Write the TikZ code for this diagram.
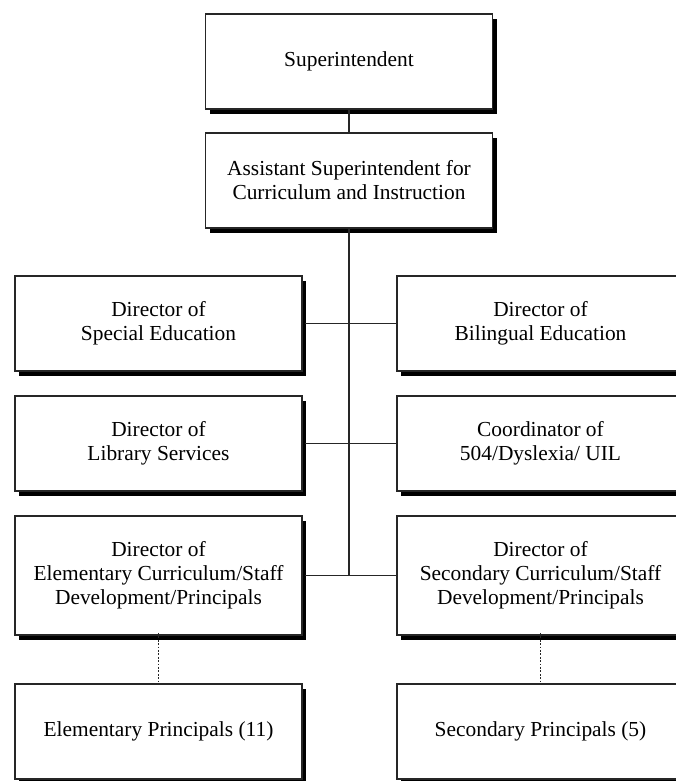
\documentclass[tikz,border=0pt]{standalone}
\usepackage{fontspec}
\setmainfont{Liberation Serif}
\usetikzlibrary{shadows}
\begin{document}
\begin{tikzpicture}[x=1pt,y=-1pt,
  orgbox/.style={draw=black!85, line width=1.9pt, fill=white,
    minimum width=287pt, minimum height=95pt, align=center, inner sep=0pt,
    font=\fontsize{21.4}{24}\selectfont,
    drop shadow={shadow xshift=4pt, shadow yshift=-5pt, fill=black, opacity=1}},
  tallbox/.style={orgbox, minimum height=119pt},
  link/.style={draw=black!85, line width=1.9pt},
  dots/.style={link, dash pattern=on 1.8pt off 1.6pt}]
\useasboundingbox (0,0) rectangle (676,781);
\clip (0,0) rectangle (676,781);

% the chart's boxes
\coordinate (trunkend) at (349,575.5);
\node[orgbox] (sup)   at (349,61.5)  {Superintendent};
\node[orgbox] (asst)  at (349,180.5) {Assistant Superintendent for\\Curriculum and Instruction};
\node[orgbox] (spe)   at (158.5,323.5) {Director of\\Special Education};
\node[orgbox] (bil)   at (540.5,323.5) {Director of\\Bilingual Education};
\node[orgbox] (lib)   at (158.5,443.5) {Director of\\Library Services};
\node[orgbox] (coord) at (540.5,443.5) {Coordinator of\\504/Dyslexia/ UIL};
\node[tallbox] (elem) at (158.5,575.5) {Director of\\Elementary Curriculum/Staff\\Development/Principals};
\node[tallbox] (sec)  at (540.5,575.5) {Director of\\Secondary Curriculum/Staff\\Development/Principals};
\node[orgbox] (eprin) at (158.5,731.5) {Elementary Principals (11)};
\node[orgbox] (sprin) at (540.5,731.5) {Secondary Principals (5)};

% reporting lines
\draw[link] (sup.south) -- (asst.north);
\draw[link] (asst.south) -- (trunkend);
\draw[link] ([xshift=2pt]spe.east) -- (bil.west);
\draw[link] ([xshift=2pt]lib.east) -- (coord.west);
\draw[link] ([xshift=2pt]elem.east) -- (sec.west);
\draw[dots] ([yshift=3pt]elem.south) -- (eprin.north);
\draw[dots] ([yshift=3pt]sec.south) -- (sprin.north);
\end{tikzpicture}
\end{document}
